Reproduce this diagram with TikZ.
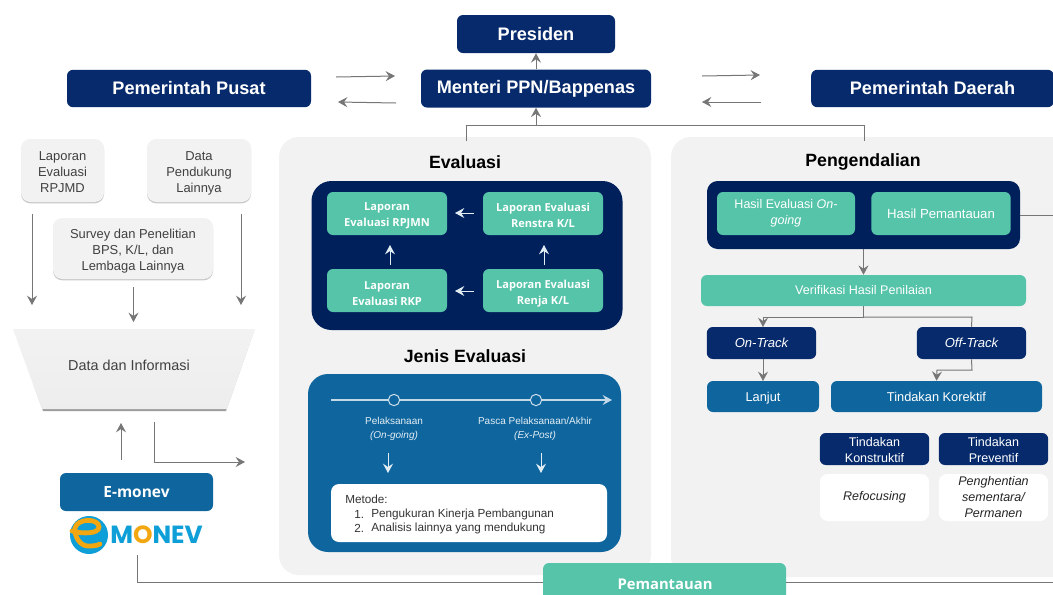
\documentclass[tikz,border=0pt]{standalone}
\usepackage{fontspec}
\setmainfont{Liberation Sans}
\newfontfamily\osans{Open Sans}
\newfontfamily\logofont{Poppins}
\usetikzlibrary{arrows.meta,shadows,calc}
\newcommand\pushdn[1]{\rule{0pt}{#1}}
\definecolor{navy}{HTML}{062A6B}
\definecolor{deep}{HTML}{00205C}
\definecolor{teal}{HTML}{55C4A9}
\definecolor{bluem}{HTML}{0F669F}
\definecolor{panel}{HTML}{F2F2F2}
\definecolor{conn}{HTML}{767676}
\definecolor{logob}{HTML}{0E9FD8}
\definecolor{logoo}{HTML}{F2A60F}
\tikzset{
 x=0.75pt,y=-0.75pt,
 fbox/.style={draw=none,rounded corners=4.5pt,align=center,inner sep=0pt,text=white},
 topbox/.style={fbox,fill=navy,font=\fontsize{13.6}{16}\selectfont\bfseries},
 greenb/.style={fbox,fill=teal,font=\osans\fontsize{8.3}{12}\selectfont\bfseries},
 greenl/.style={fbox,fill=teal,font=\fontsize{9.4}{12}\selectfont},
 navyl/.style={fbox,fill=navy,font=\fontsize{9.4}{12}\selectfont},
 bluel/.style={fbox,fill=bluem,font=\fontsize{9.6}{12}\selectfont},
 whitel/.style={fbox,fill=white,text=black!85,font=\fontsize{9.4}{12}\selectfont\itshape},
 grayb/.style={fbox,fill=panel,text=black!75,font=\fontsize{9.7}{12}\selectfont,rounded corners=7pt,
   drop shadow={shadow xshift=0pt,shadow yshift=-1pt,opacity=.3,fill=black!70}},
 titlet/.style={inner sep=0pt,font=\fontsize{13.3}{15}\selectfont\bfseries,text=black},
 smallw/.style={inner sep=0pt,text=white!88!bluem,align=center,font=\fontsize{7.5}{10}\selectfont},
 metod/.style={inner sep=0pt,anchor=west,text=black!80,font=\fontsize{8.8}{11}\selectfont},
 conn/.style={draw=conn,line width=.75pt,-{Stealth[length=7pt,width=7.5pt,inset=2.5pt]}},
 connp/.style={draw=conn,line width=.75pt},
 wconn/.style={draw=white!88!bluem,line width=.75pt,-{Stealth[length=7pt,width=7.5pt,inset=2.5pt]}},
}
\begin{document}
\begin{tikzpicture}
\useasboundingbox (0,0) rectangle (1053,594);
\fill[white] (0,0) rectangle (1053,594);
% panels
\begin{scope}
\clip (0,0) rectangle (1053,594);
\node[draw=none,fill=panel,rounded corners=15pt,minimum width=279pt,minimum height=328.5pt,inner sep=0pt] (pe) at (465,356) {};
\node[draw=none,fill=panel,rounded corners=15pt,minimum width=300pt,minimum height=330pt,inner sep=0pt] (pn) at (871,357) {};
\end{scope}
% top row
\node[topbox,minimum width=118.5pt,minimum height=28.5pt] (pres) at (536,34) {\raisebox{.6pt}{Presiden}};
\node[topbox,minimum width=172.5pt,minimum height=28.5pt] (ment) at (536,88.5) {Menteri PPN/Bappenas};
\node[topbox,minimum width=183pt,minimum height=28pt] (pusat) at (189,88.5) {Pemerintah Pusat};
\begin{scope}
\clip (0,0) rectangle (1053,594);
\node[topbox,minimum width=182pt,minimum height=28pt] (daerah) at (932.5,88.5) {Pemerintah Daerah};
\end{scope}
\coordinate (pa1) at (336,77); \coordinate (pa2) at (395,76);
\coordinate (pb1) at (396,103); \coordinate (pb2) at (338,102);
\coordinate (da1) at (702,76); \coordinate (da2) at (760,75);
\coordinate (db1) at (761,102); \coordinate (db2) at (702,102);
\draw[conn] (pa1) -- (pa2);
\draw[conn] (pb1) -- (pb2);
\draw[conn] (da1) -- (da2);
\draw[conn] (db1) -- (db2);
\draw[conn] (ment.north) -- (pres.south);
\coordinate (evtop) at (466,141); \coordinate (evc) at (466,125);
\coordinate (pgtop) at (864,141); \coordinate (pgc) at (864,125);
\coordinate (mid) at (536,125);
\draw[connp] (evtop) -- (evc) -- (pgc) -- (pgtop);
\draw[conn] (mid) -- (ment.south);
% left column
\node[grayb,minimum width=62.25pt,minimum height=47.25pt] (lap) at (62.5,170.5) {\pushdn{9pt}Laporan\\Evaluasi\\RPJMD};
\node[grayb,minimum width=78pt,minimum height=47.25pt] (dat) at (199,170.5) {\pushdn{10.5pt}Data\\Pendukung\\Lainnya};
\node[grayb,minimum width=120pt,minimum height=45.75pt] (sur) at (133,248.5) {\pushdn{11.5pt}Survey dan Penelitian\\BPS, K/L, dan\\Lembaga Lainnya};
\coordinate (l1) at (32,214); \coordinate (l2) at (32,305);
\coordinate (r1) at (241,214); \coordinate (r2) at (241,305);
\coordinate (s2) at (133.5,322); \coordinate (s1) at (133.5,287);
\draw[conn] (l1) -- (l2);
\draw[conn] (r1) -- (r2);
\draw[conn] (s1) -- (s2);
\path[fill=black!70,opacity=.55] (43,411) -- (226,411) -- (254,331) -- (15,331) -- cycle;
\path[top color=panel,bottom color=black!7] (13,329) -- (255,329) -- (227,409) -- (42,409) -- cycle;
\node[inner sep=0pt,text=black!75,font=\fontsize{10.8}{13}\selectfont] (dinfo) at (129,365) {Data dan Informasi};
\node[fbox,fill=bluem,font=\osans\fontsize{11.6}{13}\selectfont\bfseries,minimum width=114.75pt,minimum height=28.5pt] (emon) at (136.5,492) {E-monev};
\coordinate (e1) at (121,460); \coordinate (e2) at (121,423);
\coordinate (f1) at (154,422); \coordinate (f2) at (154,462); \coordinate (f3) at (245,462);
\draw[conn] (e1) -- (e2);
\draw[conn] (f1) -- (f2) -- (f3);
% logo
\fill[logob] (89,535) circle[radius=19];
\draw[logoo,line width=3.6pt,line cap=round] (72,531) .. controls (82,534) and (99,534) .. (99,527) .. controls (99,518) and (77,518) .. (75,528) .. controls (74,536) and (80,546) .. (88,546) .. controls (92,546) and (96,546) .. (100,544);
\node[inner sep=0pt,anchor=west,font=\logofont\fontsize{18.6}{20}\selectfont\bfseries,text=logob] (monev) at (110,534.5) {M\textcolor{logoo}{O}NEV};
% bottom
\coordinate (b1) at (137,555); \coordinate (b2) at (137,582); \coordinate (b3) at (543,582); \coordinate (b5) at (786,582); \coordinate (b4) at (1053,582);
\begin{scope}
\clip (0,0) rectangle (1053,594);
\node[fbox,fill=teal,minimum width=182.25pt,minimum height=36pt] (pem) at (664.5,587) {};
\end{scope}
\node[inner sep=0pt,text=white,font=\osans\fontsize{11.1}{13}\selectfont\bfseries] (pemt) at (665,584) {Pemantauan};
\draw[connp] (b1) -- (b2) -- (b3);
\draw[connp] (b5) -- (b4);
% Evaluasi
\node[titlet] (tev) at (465,162) {Evaluasi};
\node[draw=none,fill=deep,rounded corners=15pt,minimum width=233.25pt,minimum height=111.75pt,inner sep=0pt] (evd) at (467,255.5) {};
\node[greenb,minimum width=90pt,minimum height=32.25pt] (g1) at (387,213.5) {\pushdn{9.5pt}Laporan\\Evaluasi RPJMN};
\node[greenb,minimum width=90pt,minimum height=32.25pt] (g2) at (543,213.5) {\pushdn{9.5pt}Laporan Evaluasi\\Renstra K/L};
\node[greenb,minimum width=90pt,minimum height=32.25pt] (g3) at (387,290.5) {\pushdn{10.5pt}Laporan\\Evaluasi RKP};
\node[greenb,minimum width=90pt,minimum height=32.25pt] (g4) at (543,290.5) {\pushdn{10.5pt}Laporan Evaluasi\\Renja K/L};
\coordinate (a1) at (474,213); \coordinate (a2) at (455,213);
\coordinate (a3) at (474,291); \coordinate (a4) at (455,291);
\coordinate (a5) at (390,265); \coordinate (a6) at (390,245);
\coordinate (a7) at (544,265); \coordinate (a8) at (544,245);
\draw[wconn] (a1) -- (a2);
\draw[wconn] (a3) -- (a4);
\draw[wconn] (a5) -- (a6);
\draw[wconn] (a7) -- (a8);
% Jenis evaluasi
\node[titlet] (tje) at (465,356) {Jenis Evaluasi};
\node[draw=none,fill=bluem,rounded corners=15pt,minimum width=234.75pt,minimum height=133.5pt,inner sep=0pt] (jd) at (464.5,463) {};
\coordinate (t1) at (331,400); \coordinate (t2) at (612,400);
\draw[wconn,draw=white!75!bluem,line width=1pt] (t1) -- (t2);
\node[draw=white!80!bluem,fill=bluem,line width=.75pt,circle,minimum size=8.5pt,inner sep=0pt] (c1) at (394,400) {};
\node[draw=white!80!bluem,fill=bluem,line width=.75pt,circle,minimum size=8.5pt,inner sep=0pt] (c2) at (536,400) {};
\node[smallw] (pl) at (394,429) {Pelaksanaan\\{\itshape(On-going)}};
\node[smallw] (pa) at (535,429) {Pasca Pelaksanaan/Akhir\\{\itshape(Ex-Post)}};
\node[fbox,fill=white,minimum width=207pt,minimum height=43.5pt,rounded corners=6pt] (wm) at (469,513) {};
\coordinate (w1) at (388,453); \coordinate (w2) at (388,473);
\coordinate (w3) at (541,453); \coordinate (w4) at (541,473);
\draw[wconn] (w1) -- (w2);
\draw[wconn] (w3) -- (w4);
\node[metod] (mt) at (345,499) {Metode:};
\node[metod] (m1) at (354,514) {1.};
\node[metod] (m1t) at (371,514) {Pengukuran Kinerja Pembangunan};
\node[metod] (m2) at (354,528.5) {2.};
\node[metod] (m2t) at (371,528.5) {Analisis lainnya yang mendukung};
% Pengendalian
\node[titlet] (tpg) at (863,162) {Pengendalian};
\node[draw=none,fill=deep,rounded corners=8pt,minimum width=234.75pt,minimum height=51pt,inner sep=0pt] (pgd) at (863.5,215) {};
\node[greenl,minimum width=103.5pt,minimum height=32.25pt] (h1) at (786,213.5) {Hasil Evaluasi {\itshape On-}\\{\itshape going}};
\node[greenl,font=\fontsize{9.9}{12}\selectfont,minimum width=104.5pt,minimum height=32.25pt] (h2) at (941,213.5) {Hasil Pemantauan};
\coordinate (hl) at (1020,215); \coordinate (hr) at (1053,215);
\draw[connp] (hl) -- (hr);
\node[greenl,minimum width=243.75pt,minimum height=23.25pt] (ver) at (863.5,290.5) {Verifikasi Hasil Penilaian};
\draw[conn] (pgd.south) -- (ver.north);
\node[navyl,font=\fontsize{9.8}{12}\selectfont\itshape,minimum width=82pt,minimum height=24pt] (on) at (761.5,343) {On-Track};
\node[navyl,font=\fontsize{9.8}{12}\selectfont\itshape,minimum width=82pt,minimum height=24pt] (off) at (971.5,343) {Off-Track};
\node[bluel,minimum width=84pt,minimum height=23.25pt] (lj) at (763,396.5) {\pushdn{9pt}Lanjut};
\node[bluel,minimum width=158.25pt,minimum height=23.25pt] (tk) at (936.5,396.5) {Tindakan Korektif};
\coordinate (vs) at (863.5,317); \coordinate (vl) at (763,317); \coordinate (vr) at (972,317);
\coordinate (ont) at (763,327); \coordinate (onb) at (763,359); \coordinate (ljt) at (763,381);
\draw[connp] (ver.south) -- (vs);
\draw[conn] (vs) -- (vl) -- (ont);
\draw[connp] (vs) -- (vr) -- (off.north);
\draw[conn] (onb) -- (ljt);
\coordinate (ofb) at (972,370); \coordinate (ofc) at (937,370);
\draw[conn] (off.south) -- (ofb) -- (ofc) -- (tk.north);
\node[navyl,font=\fontsize{9.4}{11.8}\selectfont,minimum width=82pt,minimum height=24pt] (t1b) at (874.5,449) {\pushdn{8pt}Tindakan\\Konstruktif};
\node[navyl,font=\fontsize{9.4}{11.8}\selectfont,minimum width=82pt,minimum height=24pt] (t2b) at (993.5,449) {\pushdn{8pt}Tindakan\\Preventif};
\node[whitel,minimum width=82pt,minimum height=35.25pt,rounded corners=6pt] (t1w) at (874.5,497.5) {Refocusing};
\node[whitel,minimum width=82pt,minimum height=35.25pt,rounded corners=6pt] (t2w) at (993.5,497.5) {Penghentian\\sementara/\\Permanen};
\end{tikzpicture}
\end{document}
